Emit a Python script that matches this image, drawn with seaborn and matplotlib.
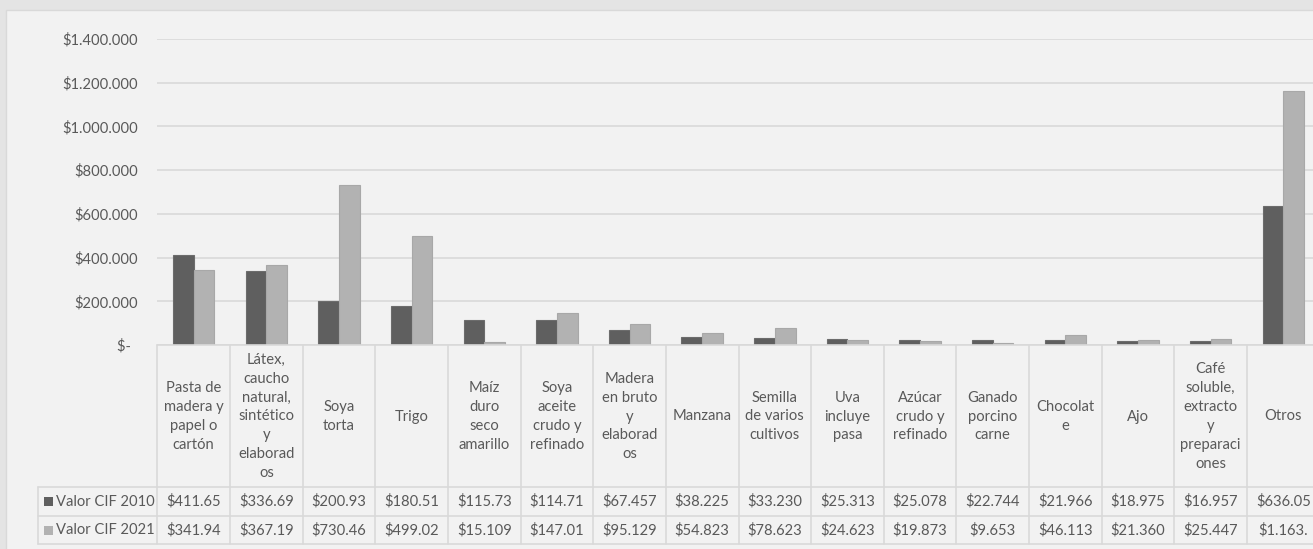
import numpy as np
import pandas as pd
import matplotlib
matplotlib.use("Agg")
import matplotlib.pyplot as plt
import seaborn as sns
from matplotlib.patches import Rectangle
from matplotlib.ticker import FuncFormatter, FixedLocator

# ---------------- data ----------------
categories = [
    "Pasta de\nmadera y\npapel o\ncartón",
    "Látex,\ncaucho\nnatural,\nsintético\ny\nelaborad\nos",
    "Soya\ntorta",
    "Trigo",
    "Maíz\nduro\nseco\namarillo",
    "Soya\naceite\ncrudo y\nrefinado",
    "Madera\nen bruto\ny\nelaborad\nos",
    "Manzana",
    "Semilla\nde varios\ncultivos",
    "Uva\nincluye\npasa",
    "Azúcar\ncrudo y\nrefinado",
    "Ganado\nporcino\ncarne",
    "Chocolat\ne",
    "Ajo",
    "Café\nsoluble,\nextracto\ny\npreparaci\nones",
    "Otros",
]
series_names = ["Valor CIF 2010", "Valor CIF 2021"]
valor_2010 = [411650, 336690, 200930, 180510, 115730, 114710, 67457, 38225,
              33230, 25313, 25078, 22744, 21966, 18975, 16957, 636050]
valor_2021 = [341940, 367190, 730460, 499020, 15109, 147010, 95129, 54823,
              78623, 24623, 19873, 9653, 46113, 21360, 25447, 1163000]
labels_2010 = ["$411.65", "$336.69", "$200.93", "$180.51", "$115.73", "$114.71",
               "$67.457", "$38.225", "$33.230", "$25.313", "$25.078", "$22.744",
               "$21.966", "$18.975", "$16.957", "$636.05"]
labels_2021 = ["$341.94", "$367.19", "$730.46", "$499.02", "$15.109", "$147.01",
               "$95.129", "$54.823", "$78.623", "$24.623", "$19.873", "$9.653",
               "$46.113", "$21.360", "$25.447", "$1.163."]
y_ticks = [0, 200000, 400000, 600000, 800000, 1000000, 1200000, 1400000]

colors = ["#5F5F5F", "#B2B2B2"]
edge_colors = ["#6C6C6C", "#A8A8A8"]
text_color = "#595959"
grid_color = "#D9D9D9"
FONT = "Lato"
FS = 10.6

# ---------------- figure ----------------
W, H = 1313, 549
sns.set_theme(style="white")
plt.rcParams["font.family"] = [FONT, "DejaVu Sans"]

fig = plt.figure(figsize=(W / 100, H / 100), dpi=100, facecolor="#E4E4E4")


def fx(px):
    return px / W


def fy(py):
    return 1 - py / H


fig.patches.append(Rectangle((fx(5.5), -0.01), 1.0, fy(9.5) + 0.01,
                             transform=fig.transFigure, facecolor="#F2F2F2",
                             edgecolor=grid_color, lw=1.0, zorder=-10))

col_w = 72.64
x0 = 157.4
y_top, y_base = 39, 345

ax = fig.add_axes([fx(x0), fy(y_base), 16 * col_w / W, (y_base - y_top) / H])
ax.patch.set_alpha(0)

df = pd.DataFrame({
    "Producto": list(range(len(categories))) * 2,
    "Serie": [series_names[0]] * len(categories) + [series_names[1]] * len(categories),
    "Valor": valor_2010 + valor_2021,
})
sns.barplot(data=df, x="Producto", y="Valor", hue="Serie", hue_order=series_names,
            palette=colors, width=0.57, saturation=1, ax=ax, legend=False,
            linewidth=0.8, zorder=3)
for cont, ec in zip(ax.containers, edge_colors):
    for b in cont:
        b.set_edgecolor(ec)

ax.set_xlim(-0.5, 15.5)
ax.set_ylim(0, 1400000)
ax.yaxis.set_major_locator(FixedLocator(y_ticks))
ax.yaxis.set_major_formatter(FuncFormatter(
    lambda v, p: "$-  " if v == 0 else "$" + f"{int(v):,}".replace(",", ".")))
ax.tick_params(axis="y", length=0, pad=14, labelsize=FS, labelcolor=text_color)
ax.tick_params(axis="x", length=0, labelbottom=False)
ax.set_xlabel("")
ax.set_ylabel("")
for s in ax.spines.values():
    s.set_visible(False)
ax.yaxis.grid(True, color=grid_color, lw=1.2, zorder=0)
ax.set_axisbelow(True)

# ---------------- data table ----------------
tab = fig.add_axes([fx(x0), fy(545), 16 * col_w / W, (545 - y_base) / H])
tab.set_xlim(-0.5, 15.5)
tab.set_ylim(200, 0)
tab.axis("off")
tab.patch.set_alpha(0)

leg_left = (38 - x0) / col_w - 0.5
lk = dict(color=grid_color, lw=1.2, clip_on=False, zorder=1)
tab.plot([-0.5, 16.5], [0, 0], **lk)
for yy in (142, 171, 199):
    tab.plot([leg_left, 16.5], [yy, yy], **lk)
for i in range(17):
    tab.plot([i - 0.5, i - 0.5], [0, 199], **lk)
tab.plot([leg_left, leg_left], [142, 199], **lk)

for i, cat in enumerate(categories):
    tab.text(i, 71.5, cat, ha="center", va="center", multialignment="center",
             fontsize=FS, color=text_color, linespacing=1.44, clip_on=False)
    tab.text(i, 156.5, labels_2010[i], ha="center", va="center",
             fontsize=FS, color=text_color, clip_on=False)
    tab.text(i, 185.5, labels_2021[i], ha="center", va="center",
             fontsize=FS, color=text_color, clip_on=False)

for name, col, yc in zip(series_names, colors, (501.5, 530.5)):
    fig.patches.append(Rectangle((fx(44), fy(yc + 4.5)), 9 / W, 9 / H,
                                 transform=fig.transFigure, facecolor=col,
                                 edgecolor="none", zorder=5))
    fig.text(fx(56), fy(yc), name, ha="left", va="center", fontsize=FS,
             color=text_color)

fig.savefig("out.png", dpi=100, facecolor=fig.get_facecolor())
